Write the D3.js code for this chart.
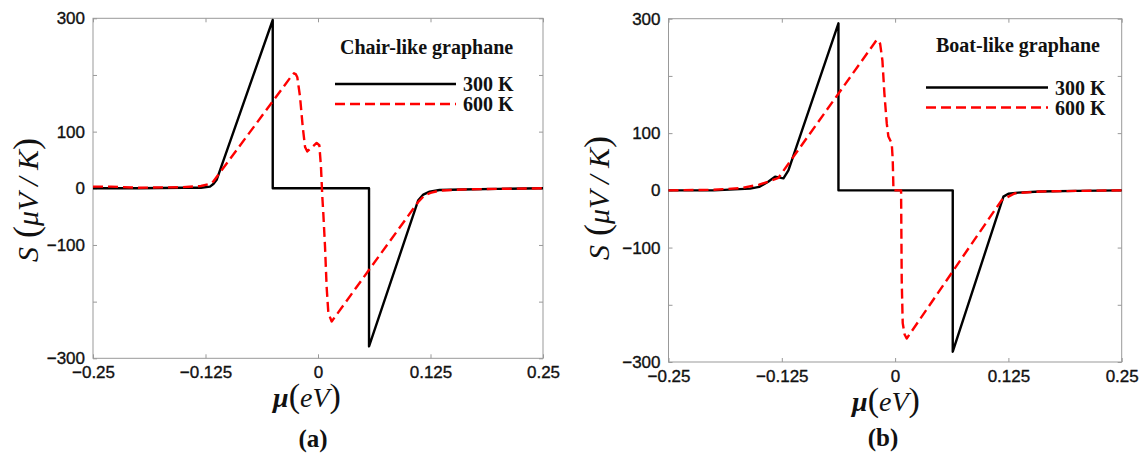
<!DOCTYPE html>
<html>
<head>
<meta charset="utf-8">
<script src="https://cdn.jsdelivr.net/npm/d3@7"></script>
<style>
  body { margin: 0; background: #fff; }
  svg { display: block; }
</style>
</head>
<body>
<div id="chart"></div>
<script>
// x ticks / y ticks shared by both panels
var muTicks = [-0.25, -0.125, 0, 0.125, 0.25];
var sTicks = [-300, -200, -100, 0, 100, 200, 300];
var sLabelled = [-300, -100, 0, 100, 300];

// (a) chair-like graphane, 300 K
var chairMu300 = [-0.25, -0.2, -0.15, -0.13, -0.12, -0.116, -0.1126, -0.0503, -0.0503, 0.0567, 0.0567, 0.1114, 0.117, 0.124, 0.135, 0.16, 0.2, 0.25];
var chairS300  = [0, 0, 1, 1, 3, 8, 15, 297, 0, 0, -279, -21, -11, -6, -3, -2, -1, 0];
// (a) chair-like graphane, 600 K
var chairMu600 = [-0.25, -0.23, -0.2, -0.15, -0.13, -0.12, -0.1163, -0.03, -0.0267, -0.0245, -0.023, -0.02, -0.017, -0.0144, -0.0119, -0.007, -0.0015, 0.0015, 0.0033, 0.0048, 0.0059, 0.0078, 0.0096, 0.0115, 0.0152, 0.1114, 0.118, 0.125, 0.135, 0.16, 0.2, 0.25];
var chairS600  = [3, 3, 1, 2, 4, 8, 12, 197, 203, 201, 196, 162, 109, 73, 65, 72, 80, 76, 38, -15, -44, -103, -174, -220, -235, -24, -13, -8, -4, -2, -1, 0];

// (b) boat-like graphane, 300 K
var boatMu300 = [-0.25, -0.2, -0.16, -0.15, -0.14, -0.1324, -0.1232, -0.1177, -0.0625, -0.0625, 0.0636, 0.0636, 0.1195, 0.125, 0.136, 0.16, 0.2, 0.25];
var boatS300  = [0, 0, 3, 6, 15, 24, 21, 35, 292, 0, 0, -282, -11, -6, -4, -2, -1, 0];
// (b) boat-like graphane, 600 K
var boatMu600 = [-0.25, -0.2, -0.17, -0.15, -0.14, -0.1287, -0.0225, -0.0203, -0.018, -0.0165, -0.014, -0.0118, -0.0092, -0.0074, -0.0037, -0.0026, -0.0018, 0.0066, 0.0073, 0.0084, 0.0105, 0.0128, 0.1176, 0.1323, 0.16, 0.2, 0.25];
var boatS600  = [0, 1, 4, 10, 15, 22, 258, 263, 261, 256, 227, 169, 117, 94, 82, 53, 0, 0, -157, -232, -252, -259, -17, -5, -2, -1, 0];

var legendNames = ["300 K", "600 K"];

var SERIF = "'Liberation Serif', 'Times New Roman', Times, serif";
var SANS = "'Liberation Sans', Arial, Helvetica, sans-serif";

var width = 1140;
var height = 457;

var svg = d3.select("#chart")
    .append("svg")
    .attr("width", width)
    .attr("height", height);

function zip(mu, s) {
    return mu.map(function (m, i) { return [m, s[i]]; });
}

function minusFmt(d) {
    if (d === 0) return "0";
    return (d < 0 ? "\u2212" : "") + Math.abs(d);
}

function drawPanel(p) {
    var x = d3.scaleLinear().domain([-0.25, 0.25]).range([p.left, p.right]);
    var y = d3.scaleLinear().domain([-300, 300]).range([p.bottom, p.top]);
    var g = svg.append("g");

    // box
    g.append("rect")
        .attr("x", p.left).attr("y", p.top)
        .attr("width", p.right - p.left).attr("height", p.bottom - p.top)
        .attr("fill", "none").attr("stroke", "#999").attr("stroke-width", 1);

    // axes, ticks inward
    var xb = g.append("g").attr("transform", "translate(0," + p.bottom + ")")
        .call(d3.axisBottom(x).tickValues(muTicks).tickSize(-4).tickPadding(8).tickFormat(minusFmt));
    var xt = g.append("g").attr("transform", "translate(0," + p.top + ")")
        .call(d3.axisTop(x).tickValues(muTicks).tickSize(-4).tickFormat(""));
    var yl = g.append("g").attr("transform", "translate(" + p.left + ",0)")
        .call(d3.axisLeft(y).tickValues(sTicks).tickSize(-4).tickPadding(8)
            .tickFormat(function (d) { return sLabelled.indexOf(d) >= 0 ? minusFmt(d) : ""; }));
    var yr = g.append("g").attr("transform", "translate(" + p.right + ",0)")
        .call(d3.axisRight(y).tickValues(sTicks).tickSize(-4).tickFormat(""));
    [xb, xt, yl, yr].forEach(function (a) {
        a.select(".domain").remove();
        a.selectAll(".tick line").attr("stroke", "#999");
        a.attr("font-family", SANS).attr("font-size", 17);
        a.selectAll(".tick text").attr("fill", "#111")
            .attr("stroke", "#111").attr("stroke-width", 0.35);
    });

    var line = d3.line()
        .x(function (d) { return x(d[0]); })
        .y(function (d) { return y(d[1]); });

    g.append("path")
        .datum(zip(p.mu300, p.s300))
        .attr("d", line)
        .attr("fill", "none").attr("stroke", "#000").attr("stroke-width", 2.4)
        .attr("stroke-linejoin", "round");

    g.append("path")
        .datum(zip(p.mu600, p.s600))
        .attr("d", line)
        .attr("fill", "none").attr("stroke", "#f00").attr("stroke-width", 2.4)
        .attr("stroke-dasharray", "10,5").attr("stroke-linejoin", "round");

    // legend
    g.append("text")
        .attr("x", p.legX).attr("y", p.legY)
        .attr("font-family", SERIF)
        .attr("font-weight", "bold").attr("font-size", 20).attr("fill", "#111")
        .text(p.title);
    var styles = [{c: "#000", dash: null}, {c: "#f00", dash: "10,5"}];
    legendNames.forEach(function (n, i) {
        var ly = p.legLineY + i * 20;
        g.append("line")
            .attr("x1", p.legLineX0).attr("x2", p.legLineX1)
            .attr("y1", ly).attr("y2", ly)
            .attr("stroke", styles[i].c).attr("stroke-width", 2.6)
            .attr("stroke-dasharray", styles[i].dash);
        g.append("text")
            .attr("x", p.legLineX1 + 7).attr("y", ly + 7)
            .attr("font-family", SERIF)
            .attr("font-weight", "bold").attr("font-size", 20).attr("fill", "#111")
            .text(n);
    });

    // y label
    var yt = g.append("text")
        .attr("transform", "translate(" + p.ylabX + "," + p.ylabY + ") rotate(-90)")
        .attr("text-anchor", "middle")
        .attr("font-family", SERIF)
        .attr("font-size", 30).attr("fill", "#111");
    yt.append("tspan").attr("font-style", "italic").text("S");
    yt.append("tspan").attr("font-size", 36).text(" (");
    yt.append("tspan").attr("font-style", "italic").text("\u03bcV / K");
    yt.append("tspan").attr("font-size", 36).text(")");

    // x label
    var xl = g.append("text")
        .attr("x", p.xlabX).attr("y", p.xlabY)
        .attr("text-anchor", "middle")
        .attr("font-family", SERIF)
        .attr("font-size", 28).attr("fill", "#111");
    xl.append("tspan").attr("font-style", "italic").attr("font-weight", "bold").text("\u03bc");
    xl.append("tspan").attr("font-size", 34).text("(");
    xl.append("tspan").attr("font-style", "italic").text("eV");
    xl.append("tspan").attr("font-size", 34).text(")");

    // panel tag
    g.append("text")
        .attr("x", p.tagX).attr("y", p.tagY)
        .attr("text-anchor", "middle")
        .attr("font-family", SERIF)
        .attr("font-weight", "bold").attr("font-size", 25).attr("fill", "#111")
        .text(p.tag);
}

drawPanel({
    left: 93, right: 543, top: 18.3, bottom: 358.3,
    mu300: chairMu300, s300: chairS300, mu600: chairMu600, s600: chairS600,
    title: "Chair-like graphane", legX: 340, legY: 54,
    legLineX0: 335, legLineX1: 456, legLineY: 84,
    ylabX: 38, ylabY: 200, xlabX: 307, xlabY: 407, tag: "(a)", tagX: 313, tagY: 447
});

drawPanel({
    left: 668.5, right: 1121.7, top: 18.7, bottom: 362,
    mu300: boatMu300, s300: boatS300, mu600: boatMu600, s600: boatS600,
    title: "Boat-like graphane", legX: 936, legY: 52,
    legLineX0: 926, legLineX1: 1048, legLineY: 87.5,
    ylabX: 609, ylabY: 198, xlabX: 886, xlabY: 411, tag: "(b)", tagX: 883, tagY: 446
});
</script>
</body>
</html>
